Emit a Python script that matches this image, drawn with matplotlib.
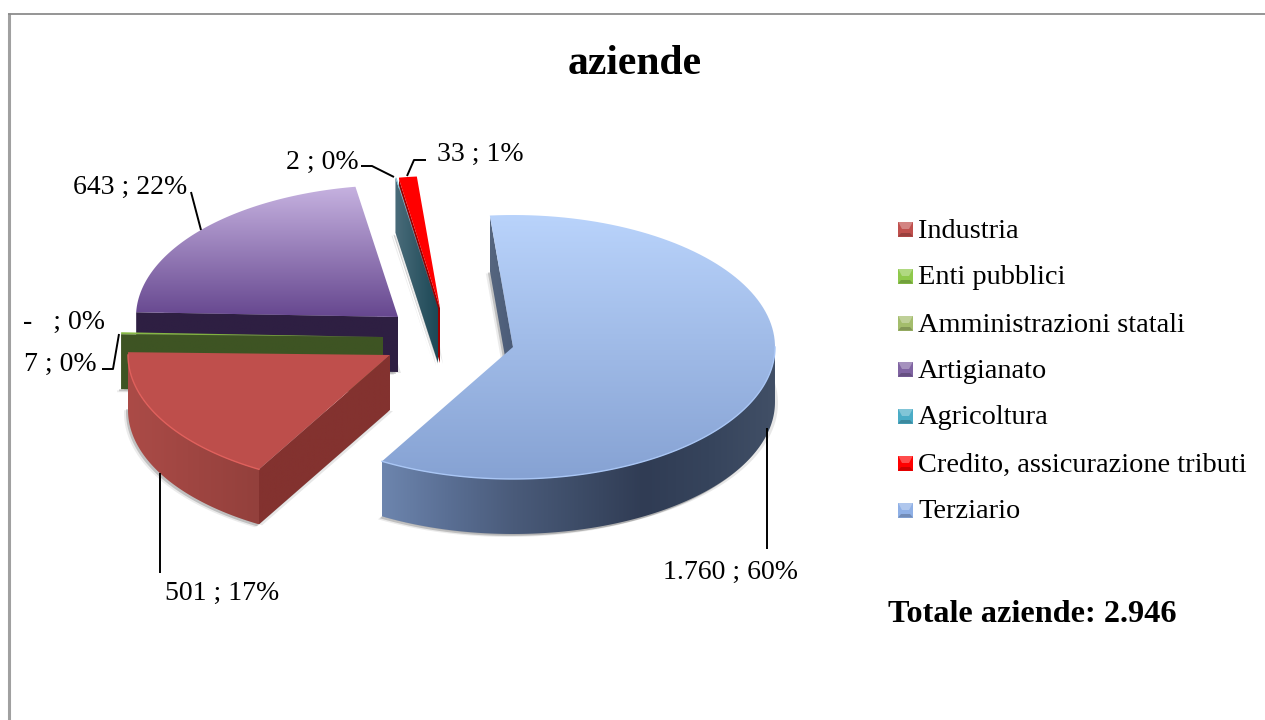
import numpy as np
import matplotlib
matplotlib.use('Agg')
import matplotlib.pyplot as plt
from matplotlib.colors import LinearSegmentedColormap
from matplotlib.patches import Polygon, Rectangle

categories = ['Industria', 'Enti pubblici', 'Amministrazioni statali', 'Artigianato',
              'Agricoltura', 'Credito, assicurazione tributi', 'Terziario']
values = [501, 7, 0, 643, 2, 33, 1760]
total_label = 'Totale aziende: 2.946'
title = 'aziende'
data_labels = ['501 ; 17%', '7 ; 0%', '-   ; 0%', '643 ; 22%', '2 ; 0%', '33 ; 1%', '1.760 ; 60%']

# layout, in pixels of the 1265x720 picture
start_angle = 240.0
rx, ry, depth = 262, 132, 55
centers = [(390, 355), (383, 337), (383, 337), (398, 317), (438, 308), (440, 308), (513, 347)]
label_pos = [(165, 593), (24, 364), (23, 322), (73, 187), (286, 162), (437, 154), (663, 572)]
draw_order = [3, 1, 0, 5, 4, 6]

top_cols = [['#c0504d', '#bd4e4b'], ['#8dc04a', '#76a33a'], ['#a8c070', '#a8c070'], ['#c6b2e0', '#66478f'],
            ['#7fc4d8', '#4bacc6'], ['#ff0000', '#ff0000'], ['#b9d3fb', '#86a2d3']]
side_cols = [['#ab4b47', '#93403c'], ['#3e5423', '#3e5423'], ['#3e5423', '#3e5423'], ['#2e1f42', '#2e1f42'],
             ['#1d4a58', '#1d4a58'], ['#a00000', '#a00000'],
             ['#6d85ae', '#5a6f94', '#4a5b7a', '#3d4c67', '#303c54', '#36445c', '#414f66']]
wall_cols = [['#83322f', '#83322f'], ['#3e5423', '#3e5423'], ['#3e5423', '#3e5423'], ['#2e1f42', '#2e1f42'],
             ['#4a6c7a', '#1c4856'], ['#9a0000', '#9a0000'], ['#56667f', '#4a5b78']]
edge_cols = ['#e0605c', '#8fd048', '#a8c070', '#c6b2e0', '#9fd4e4', '#ff3030', '#a9c6f5']
legend_cols = ['#c0504d', '#8fc94c', '#a4bd6c', '#8064a2', '#4bacc6', '#ff0000', '#8fb0e6']
legend_y = [229, 276, 323, 369, 416, 463, 510]

plt.rcParams['font.family'] = ['Liberation Serif', 'DejaVu Serif']

fig = plt.figure(figsize=(12.65, 7.2), dpi=100)
ax = fig.add_axes([0, 0, 1, 1])


def arc(cx, cy, a0, a1, n=120):
    t = np.radians(np.linspace(a0, a1, n))
    return np.column_stack([cx + rx * np.cos(t), cy - ry * np.sin(t)])


def grad_fill(pts, colors, vertical=False, zorder=2):
    # gradient image clipped to the polygon
    pts = np.asarray(pts)
    x0, x1 = pts[:, 0].min(), pts[:, 0].max()
    y0, y1 = pts[:, 1].min(), pts[:, 1].max()
    cmap = LinearSegmentedColormap.from_list('g', colors)
    g = np.linspace(0, 1, 256)
    g = g[:, None] if vertical else g[None, :]
    im = ax.imshow(g, cmap=cmap, extent=(x0, x1, y1, y0), origin='upper', aspect='auto',
                   zorder=zorder, vmin=0, vmax=1)
    poly = Polygon(pts, closed=True, transform=ax.transData, fc='none', ec='none')
    ax.add_patch(poly)
    im.set_clip_path(poly)


# angles of each slice, clockwise from the start angle
shares = np.array(values) / sum(values) * 360
ends = start_angle - np.cumsum(shares)
starts = ends + shares

z = 2
for i in draw_order:
    a0, a1 = starts[i], ends[i]
    cx, cy = centers[i]
    top = np.vstack([[cx, cy], arc(cx, cy, a0, a1)])

    # soft shadow under the slice
    for (dx, dy, al) in [(-4, 3, 0.10), (3, 1, 0.12), (-2, 2, 0.25)]:
        ax.add_patch(Polygon(top + [dx, depth + dy], closed=True, fc='#404040', ec='none', alpha=al, zorder=z))
    z += 1

    # cut wall, only the leading one faces the viewer here
    if np.cos(np.radians(a0)) < 0:
        p = arc(cx, cy, a0, a0, 1)[0]
        wall = [[cx, cy], p, p + [0, depth], [cx, cy + depth]]
        grad_fill(wall, wall_cols[i], zorder=z)
        z += 1

    # outer rim where it is on the lower half
    if a0 > 180:
        lo, hi = max(a1, 180), a0
    elif a1 < 0:
        lo, hi = a1, min(a0, 0)
    else:
        lo, hi = 0, 0
    if hi > lo:
        rim = arc(cx, cy, hi, lo)
        side = np.vstack([rim, rim[::-1] + [0, depth]])
        grad_fill(side, side_cols[i], zorder=z)
        z += 1
        ax.plot(rim[:, 0], rim[:, 1], color=edge_cols[i], lw=1.0, zorder=z + 1)

    grad_fill(top, top_cols[i], vertical=True, zorder=z)
    z += 2

# leader lines
leaders = [([160, 160], [473, 573]),
           ([102, 113, 119], [369, 369, 334]),
           ([191, 201], [192, 230]),
           ([361, 372, 394], [166, 166, 177]),
           ([426, 414, 407], [160, 160, 176]),
           ([767, 767], [428, 549])]
for (lx, ly) in leaders:
    ax.plot(lx, ly, color='black', lw=1.4, zorder=z, solid_capstyle='butt')

for (txt, (tx, ty)) in zip(data_labels, label_pos):
    ax.text(tx, ty, txt, fontsize=20, va='center', ha='left', color='black', zorder=z)

# legend
for (name, col, y) in zip(categories, legend_cols, legend_y):
    ax.add_patch(Rectangle((898, y - 7.5), 15, 15, fc=col, ec='none', zorder=z))
    ax.add_patch(Polygon([[898, y - 7.5], [913, y - 7.5], [909, y], [902, y]], closed=True,
                         fc='white', alpha=0.3, ec='none', zorder=z + 1))
    ax.add_patch(Polygon([[898, y + 7.5], [913, y + 7.5], [910, y + 4], [901, y + 4]], closed=True,
                         fc='black', alpha=0.2, ec='none', zorder=z + 1))
    ax.text(918, y + 2, name, fontsize=20.4, va='center', ha='left', color='black', zorder=z)

ax.text(635, 64, title, fontsize=30, fontweight='bold', va='center', ha='center')
ax.text(888, 615, total_label, fontsize=23.2, fontweight='bold', va='center', ha='left')

# chart frame, only top and left edges are inside the picture
ax.plot([9, 9], [13, 720], color='#a0a0a0', lw=2.2, zorder=z, solid_capstyle='butt')
ax.plot([8, 1265], [13.5, 13.5], color='#8c8c8c', lw=1.3, zorder=z, solid_capstyle='butt')

ax.set_xlim(0, 1265)
ax.set_ylim(720, 0)
ax.axis('off')
fig.savefig('out.png', dpi=100, facecolor='white')
